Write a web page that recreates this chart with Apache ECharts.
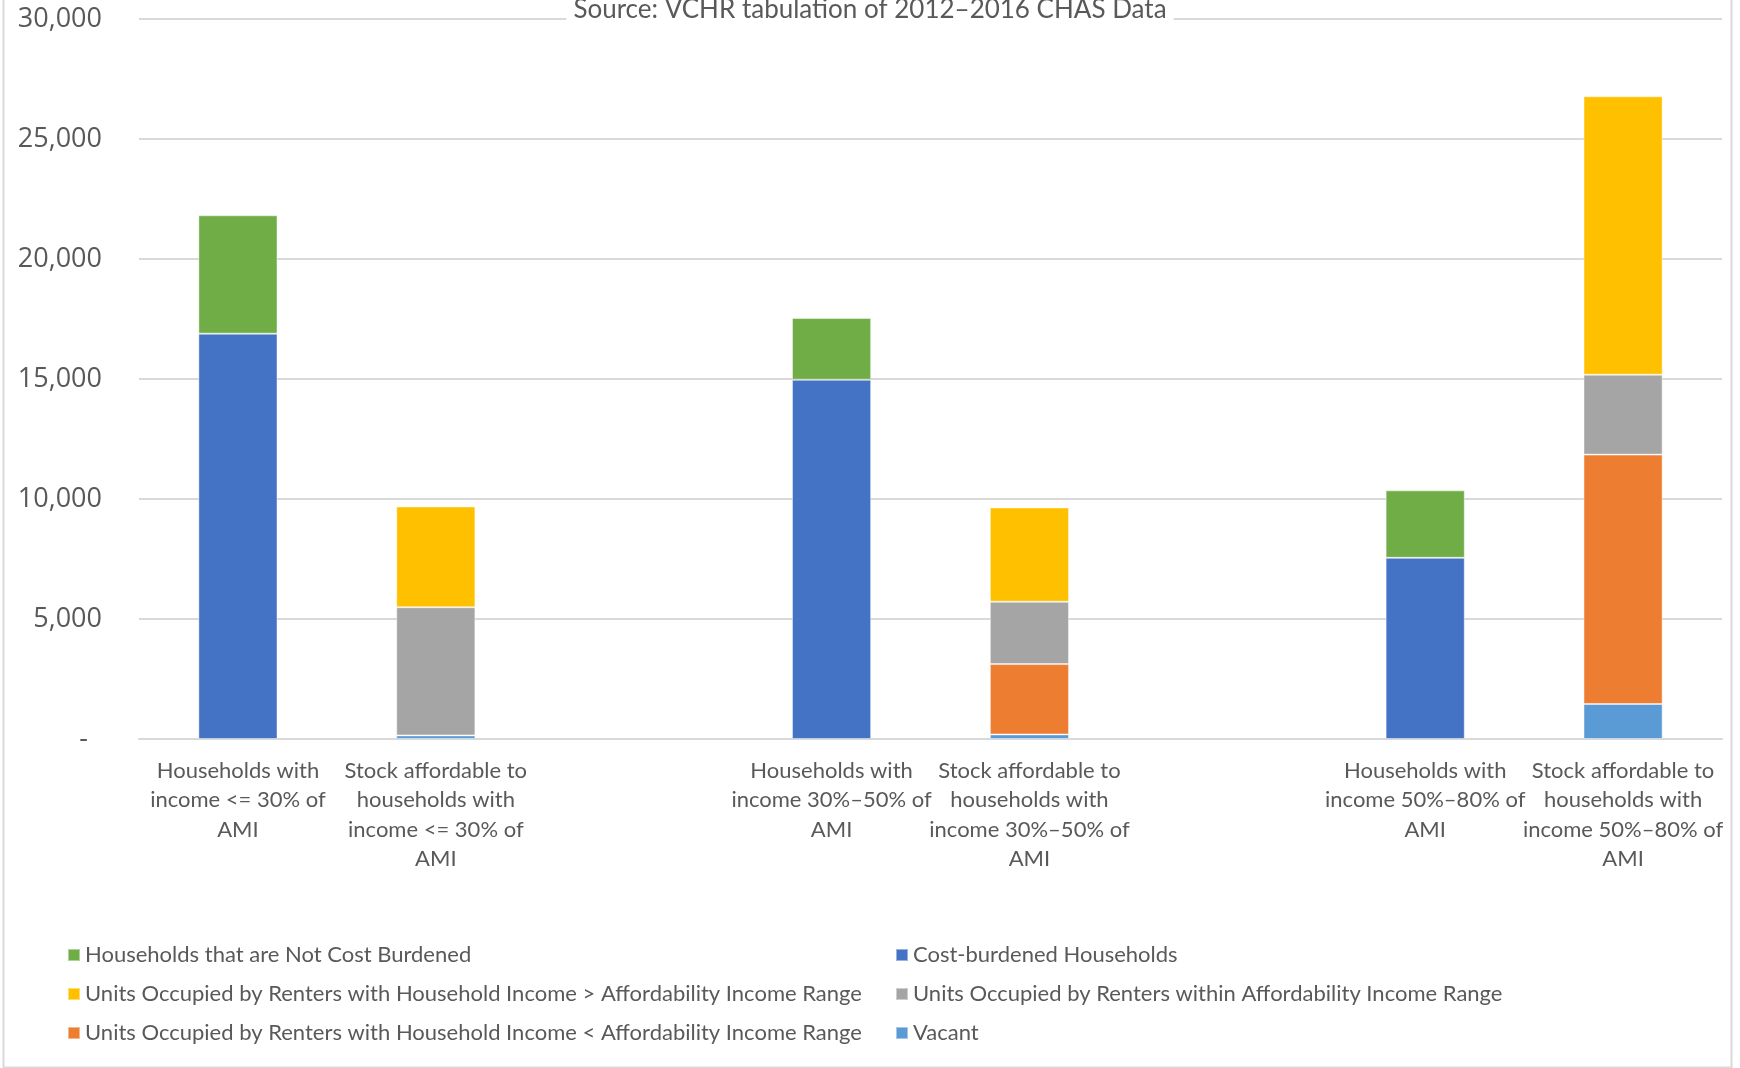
<!DOCTYPE html>
<html>
<head>
<meta charset="utf-8">
<title>Households vs affordable stock</title>
<script src="https://cdn.jsdelivr.net/npm/echarts@6/dist/echarts.min.js"></script>
<style>
  html, body { margin: 0; padding: 0; background: #fff; }
  #chart { width: 1740px; height: 1068px; }
</style>
</head>
<body>
<div id="chart"></div>
<script>
// categories (two blank slots separate the income groups)
const categories = [
  'Households with\nincome <= 30% of\nAMI',
  'Stock affordable to\nhouseholds with\nincome <= 30% of\nAMI',
  '',
  'Households with\nincome 30%\u201350% of\nAMI',
  'Stock affordable to\nhouseholds with\nincome 30%\u201350% of\nAMI',
  '',
  'Households with\nincome 50%\u201380% of\nAMI',
  'Stock affordable to\nhouseholds with\nincome 50%\u201380% of\nAMI'
]

// series values, bottom of stack first
const costBurdened = [16890, null, null, 14970, null, null, 7550, null]
const notBurdened = [4930, null, null, 2570, null, null, 2810, null]
const vacant = [null, 150, null, null, 190, null, null, 1460]
const belowRange = [null, 0, null, null, 2930, null, null, 10390]
const withinRange = [null, 5340, null, null, 2600, null, null, 3330]
const aboveRange = [null, 4200, null, null, 3930, null, null, 11600]

const yTicks = { min: 0, max: 30000, interval: 5000 }

const textColor = '#595959'
const gridColor = '#D9D9D9'
const labelFont = 'Lato, "Noto Sans", sans-serif'

const chart = echarts.init(document.getElementById('chart'))

const bar = (name, data, color) => ({
  name,
  type: 'bar',
  stack: 'total',
  data,
  barWidth: '40%',
  itemStyle: {
    color,
    borderColor: 'rgba(255,255,255,0.45)',
    borderWidth: 1
  }
})

const legendText = {
  color: textColor,
  fontSize: 22,
  fontFamily: labelFont,
  lineHeight: 24
}

const option = {
  animation: false,
  backgroundColor: '#fff',
  title: {
    text: 'Source: VCHR tabulation of 2012\u20132016 CHAS Data',
    left: 'center',
    top: -3,
    padding: [0, 7],
    backgroundColor: '#fff',
    textStyle: {
      color: textColor,
      fontSize: 26,
      fontWeight: 'normal',
      fontFamily: labelFont,
      lineHeight: 26
    }
  },
  graphic: [
    {
      type: 'rect',
      left: 1,
      top: -10,
      shape: { width: 1728, height: 1075 },
      style: { fill: 'none', stroke: gridColor, lineWidth: 2 },
      silent: true
    }
  ],
  legend: [
    {
      orient: 'vertical',
      left: 67,
      top: 943,
      padding: 0,
      itemGap: 15,
      itemWidth: 12,
      itemHeight: 12,
      icon: 'rect',
      data: [
        'Households that are Not Cost Burdened',
        'Units Occupied by Renters with Household Income > Affordability Income Range',
        'Units Occupied by Renters with Household Income < Affordability Income Range'
      ],
      textStyle: legendText
    },
    {
      orient: 'vertical',
      left: 895,
      top: 943,
      padding: 0,
      itemGap: 15,
      itemWidth: 12,
      itemHeight: 12,
      icon: 'rect',
      data: [
        'Cost-burdened Households',
        'Units Occupied by Renters within Affordability Income Range',
        'Vacant'
      ],
      textStyle: legendText
    }
  ],
  grid: {
    left: 139,
    right: 18,
    top: 19,
    bottom: 329
  },
  xAxis: {
    type: 'category',
    data: categories,
    axisTick: { show: false },
    axisLine: { lineStyle: { color: gridColor, width: 2 } },
    axisLabel: {
      interval: 0,
      margin: 17,
      color: textColor,
      fontSize: 22,
      lineHeight: 29.5,
      fontFamily: labelFont,
      align: 'center'
    }
  },
  yAxis: {
    type: 'value',
    min: yTicks.min,
    max: yTicks.max,
    interval: yTicks.interval,
    axisLine: { show: false },
    axisTick: { show: false },
    splitLine: { lineStyle: { color: gridColor, width: 2 } },
    axisLabel: {
      margin: 37,
      color: textColor,
      fontSize: 27,
      fontFamily: '"Open Sans", sans-serif',
      formatter: (v) => (v === 0 ? '-  ' : v.toLocaleString('en-US'))
    }
  },
  series: [
    bar('Cost-burdened Households', costBurdened, '#4472C4'),
    bar('Households that are Not Cost Burdened', notBurdened, '#70AD47'),
    bar('Vacant', vacant, '#5B9BD5'),
    bar('Units Occupied by Renters with Household Income < Affordability Income Range', belowRange, '#ED7D31'),
    bar('Units Occupied by Renters within Affordability Income Range', withinRange, '#A5A5A5'),
    bar('Units Occupied by Renters with Household Income > Affordability Income Range', aboveRange, '#FFC000')
  ]
}

chart.setOption(option)
</script>
</body>
</html>
